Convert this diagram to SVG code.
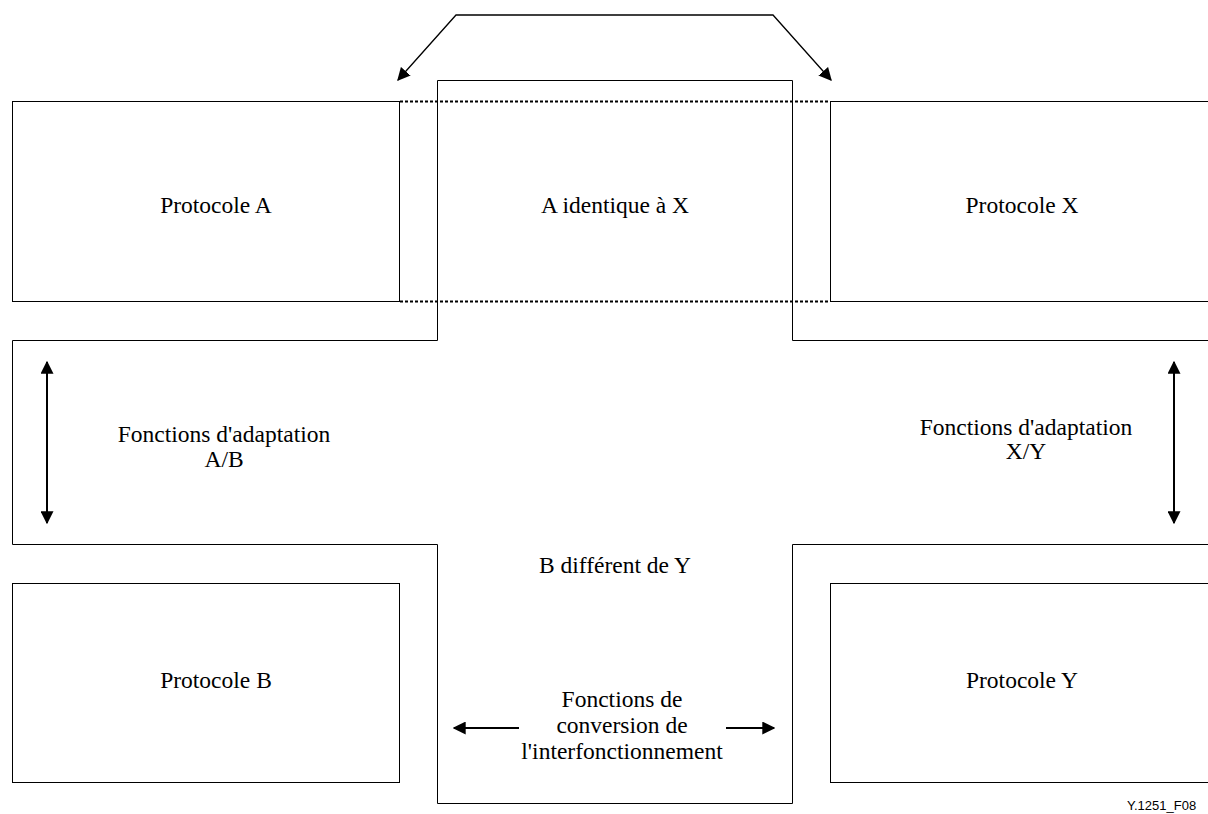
<svg xmlns="http://www.w3.org/2000/svg" width="1208" height="814" viewBox="0 0 1208 814">
  <defs>
    <marker id="head" viewBox="0 0 10 10" refX="9" refY="5" markerWidth="6.5" markerHeight="6.5" orient="auto-start-reverse" markerUnits="strokeWidth">
      <path d="M0,0 L10,5 L0,10 Z" fill="#000"/>
    </marker>
    <marker id="headThin" viewBox="0 0 10 10" refX="9" refY="5" markerWidth="10" markerHeight="10" orient="auto-start-reverse" markerUnits="strokeWidth">
      <path d="M0,0 L10,5 L0,10 Z" fill="#000"/>
    </marker>
    <style>
      .box { fill: none; stroke: #000; stroke-width: 1; }
      .dot { fill: none; stroke: #000; stroke-width: 2; stroke-dasharray: 3 2; }
      .arrow { fill: none; stroke: #000; stroke-width: 2; marker-end: url(#head); }
      .arrow2 { fill: none; stroke: #000; stroke-width: 2; marker-start: url(#head); marker-end: url(#head); }
      .link { fill: none; stroke: #000; stroke-width: 1.3; marker-start: url(#headThin); marker-end: url(#headThin); }
      .lbl { font-family: "Liberation Serif", "Times New Roman", serif; font-size: 23.5px; fill: #000; text-anchor: middle; }
      .ref { font-family: "Liberation Sans", Arial, sans-serif; font-size: 13px; fill: #000; }
    </style>
  </defs>
  <rect width="1208" height="814" fill="#fff"/>

  <!-- cross-shaped interworking area -->
  <g id="interworking">
    <path class="box" d="M437.5,80.5 H792.5 V340.5 H1220 V544.5 H792.5 V803.5 H437.5 V544.5 H12.5 V340.5 H437.5 Z"/>
    <text class="lbl" x="615" y="213">A identique à X</text>
    <text class="lbl" x="615" y="573">B différent de Y</text>
    <text class="lbl" x="622" y="707">Fonctions de</text>
    <text class="lbl" x="622" y="733">conversion de</text>
    <text class="lbl" x="622" y="759">l'interfonctionnement</text>
  </g>

  <g id="adapt-ab">
    <text class="lbl" x="224" y="442">Fonctions d'adaptation</text>
    <text class="lbl" x="224" y="467">A/B</text>
  </g>
  <g id="adapt-xy">
    <text class="lbl" x="1026" y="435">Fonctions d'adaptation</text>
    <text class="lbl" x="1026" y="459">X/Y</text>
  </g>

  <g id="protocol-a">
    <rect class="box" x="12.5" y="101.5" width="387" height="200"/>
    <text class="lbl" x="216" y="213">Protocole A</text>
  </g>
  <g id="protocol-x">
    <rect class="box" x="830.5" y="101.5" width="400" height="200"/>
    <text class="lbl" x="1022" y="213">Protocole X</text>
  </g>
  <g id="protocol-b">
    <rect class="box" x="12.5" y="583.5" width="387" height="199"/>
    <text class="lbl" x="216" y="688">Protocole B</text>
  </g>
  <g id="protocol-y">
    <rect class="box" x="830.5" y="583.5" width="400" height="199"/>
    <text class="lbl" x="1022" y="688">Protocole Y</text>
  </g>

  <g id="connectors">
    <line class="dot" x1="400" y1="101.5" x2="830" y2="101.5"/>
    <line class="dot" x1="400" y1="301.5" x2="830" y2="301.5"/>
    <polyline class="link" points="398,80 456,15 773,15 831,80"/>
    <line class="arrow2" x1="47" y1="362" x2="47" y2="523"/>
    <line class="arrow2" x1="1174" y1="362" x2="1174" y2="523"/>
    <line class="arrow" x1="519" y1="728" x2="454" y2="728"/>
    <line class="arrow" x1="726" y1="728" x2="774" y2="728"/>
  </g>

  <text class="ref" x="1127" y="810">Y.1251_F08</text>
</svg>
